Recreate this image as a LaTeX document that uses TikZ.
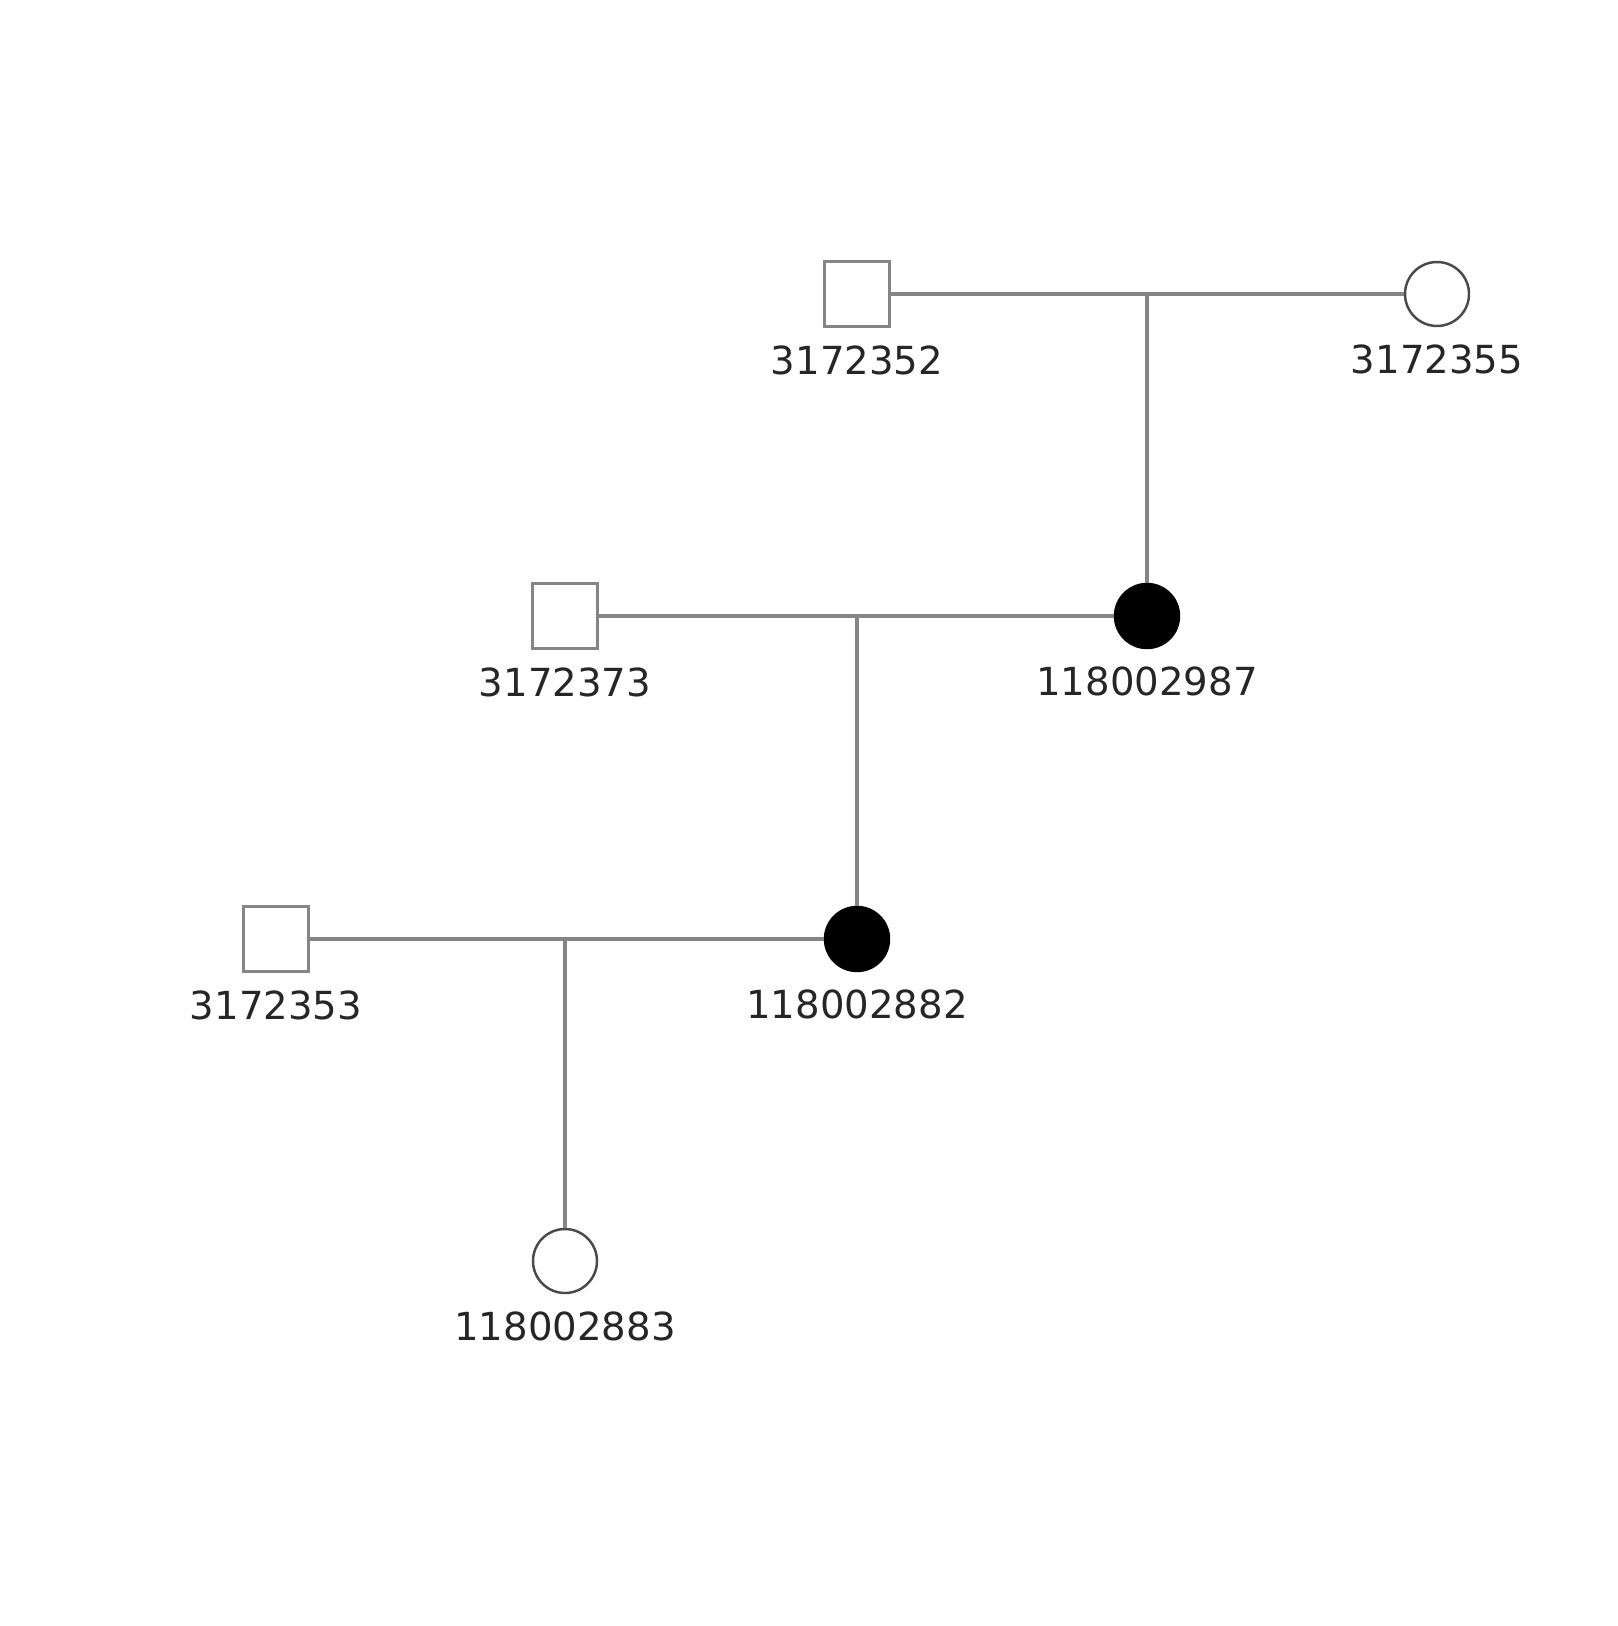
\documentclass[tikz,border=0pt]{standalone}
\usepackage{fontspec}
\setmainfont{DejaVu Sans}
\definecolor{lineGray}{HTML}{858585}
\definecolor{ringGray}{HTML}{4A4A4A}
\tikzset{
  male/.style={draw=lineGray, line width=1.8pt, fill=white, minimum size=1.3cm, inner sep=0pt},
  female/.style={circle, draw=ringGray, line width=1.4pt, fill=white, minimum size=1.28cm, inner sep=0pt},
  affected/.style={female, draw=black, fill=black},
  idlabel/.style={font=\fontsize{22}{26}\selectfont, text=black!85, inner sep=0pt},
  union/.style={draw=lineGray, line width=1.8pt}
}
\begin{document}
\begin{tikzpicture}[x=0.02cm, y=0.02cm, label distance=0.34cm]
    \useasboundingbox (0, 0) rectangle (1617, -1626);

    % Draw the individuals
    \node[male, label={[idlabel]below:3172352}] (m1) at (857, -294) {};
    \node[female, label={[idlabel]below:3172355}] (f1) at (1437, -294) {};
    \node[affected, label={[idlabel]below:118002987}] (f2) at (1147, -616) {};
    \node[male, label={[idlabel]below:3172373}] (m2) at (565, -616) {};
    \node[affected, label={[idlabel]below:118002882}] (f3) at (857, -939) {};
    \node[male, label={[idlabel]below:3172353}] (m3) at (276, -939) {};
    \node[female, label={[idlabel]below:118002883}] (f4) at (565, -1261) {};

    % Marriage lines
    \draw[union] (m1) -- (f1);
    \draw[union] (m2) -- (f2);
    \draw[union] (m3) -- (f3);

    % Lines down to the children
    \draw[union] (f2 |- m1) -- (f2.north);
    \draw[union] (f3 |- m2) -- (f3.north);
    \draw[union] (f4 |- m3) -- (f4.north);
  \end{tikzpicture}
\end{document}
